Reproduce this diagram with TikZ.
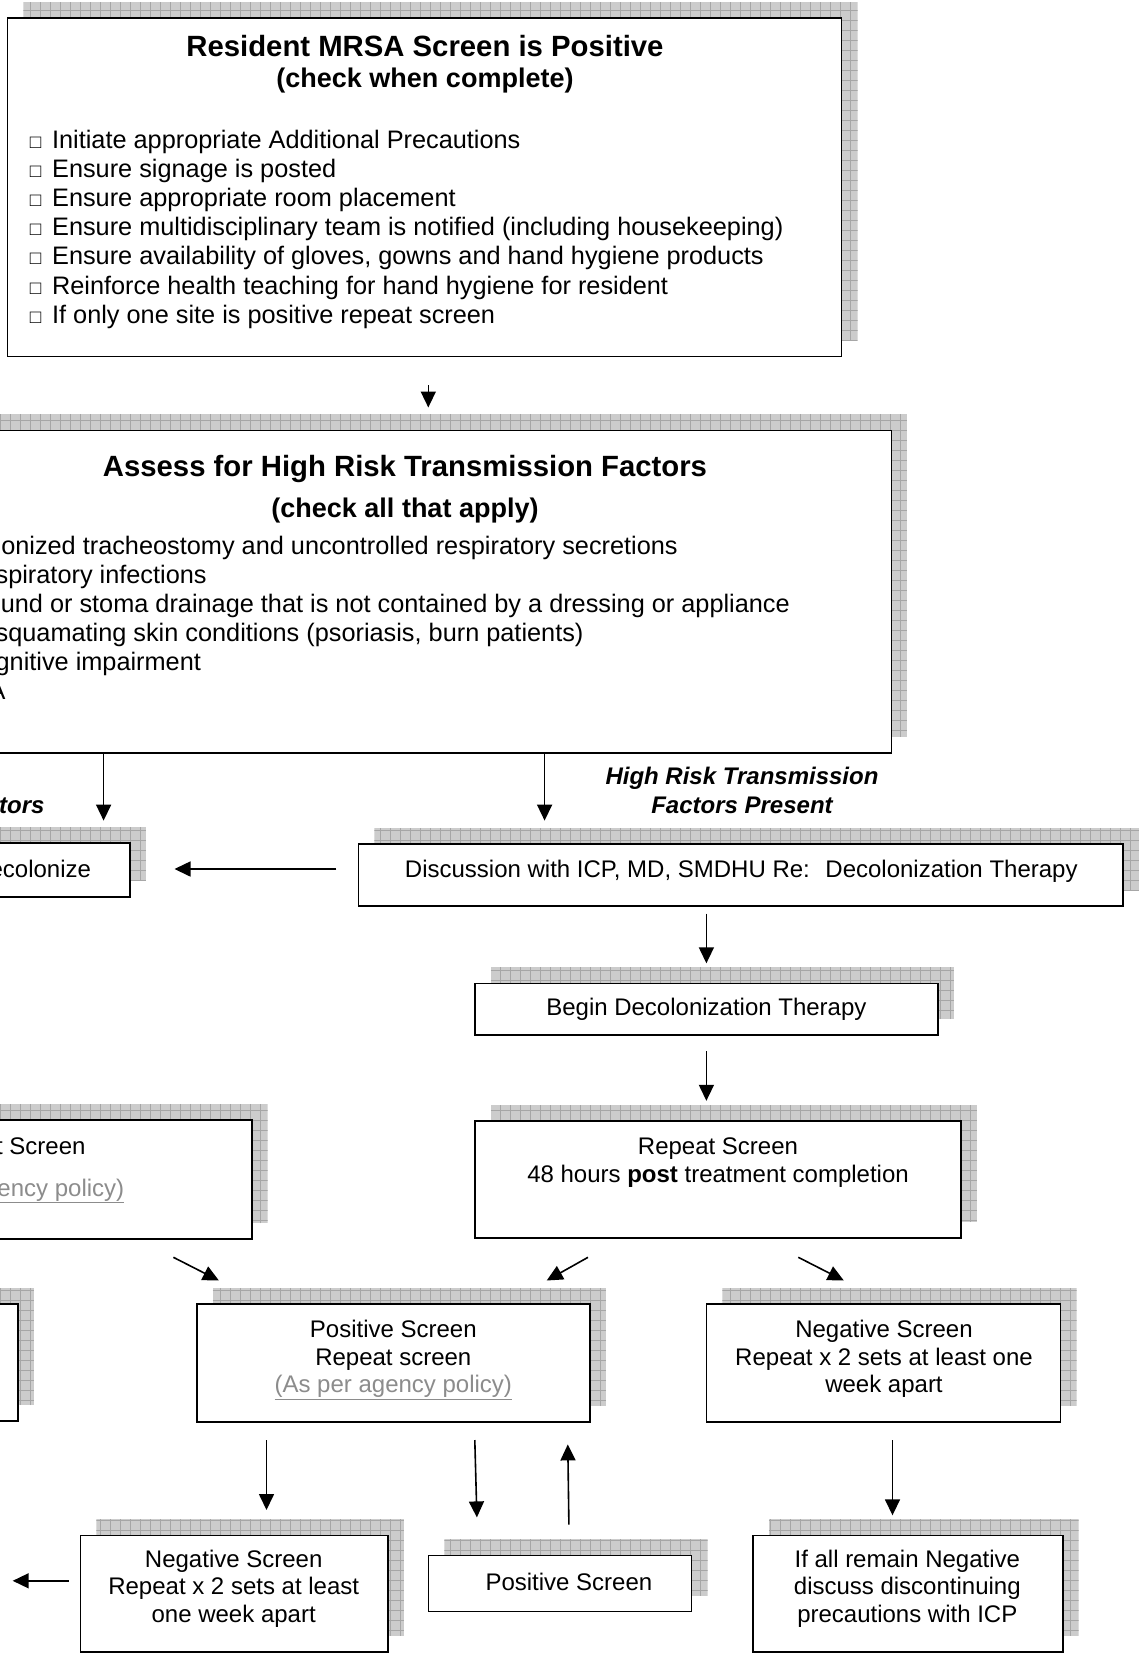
\documentclass[tikz,border=0pt]{standalone}
\usepackage{fontspec}
\setmainfont{Liberation Sans}
\usepackage{tikz}
\usetikzlibrary{arrows.meta}
\definecolor{ink}{HTML}{000000}
\definecolor{shade}{HTML}{CCCCCC}
\definecolor{shadeline}{HTML}{A6A6A6}
\definecolor{policy}{HTML}{8C8C8C}
\tikzset{
  flowbox/.style={draw=ink, line width=1.6pt, fill=white, inner sep=0pt},
  shadefill/.style={fill=shade},
  shadegrid/.style={draw=shadeline, line width=0.5pt, step=10pt},
  flowarrow/.style={draw=ink, line width=1.6pt, -{Triangle[length=16pt,width=15pt]}},
  titletext/.style={font=\bfseries\fontsize{29.3pt}{33pt}\selectfont, inner sep=0pt, text height=21pt, text depth=0pt},
  subtitletext/.style={font=\bfseries\fontsize{27pt}{31pt}\selectfont, inner sep=0pt, text height=19.5pt, text depth=0pt},
  listtext/.style={font=\fontsize{25.3pt}{29pt}\selectfont, anchor=west, inner sep=0pt, text height=18.2pt, text depth=0pt},
  boxtext/.style={font=\fontsize{24pt}{27.5pt}\selectfont, align=center, inner sep=0pt, text height=17.3pt, text depth=0pt},
  branchtext/.style={font=\bfseries\itshape\fontsize{24pt}{28.5pt}\selectfont, align=center, inner sep=0pt, text height=17.3pt, text depth=0pt},
  policytext/.style={boxtext, text=policy}
}
\newcommand{\tickbox}{\makebox[15.3pt][l]{\fontsize{19pt}{19pt}\selectfont □}}
% name, centre x, centre y, width, height
\newcommand{\casebox}[5]{%
  \begin{scope}
    \clip (#2-#4/2+16,#3+#5/2-16) rectangle (#2+#4/2+16,#3-#5/2-16);
    \fill[shadefill] (#2-#4/2+16,#3+#5/2-16) rectangle (#2+#4/2+16,#3-#5/2-16);
    \draw[shadegrid] (#2-#4/2+16,#3+#5/2-16) grid (#2+#4/2+16,#3-#5/2-16);
  \end{scope}
  \node[flowbox, minimum width=#4pt, minimum height=#5pt] (#1) at (#2,#3) {};}

\begin{document}
\begin{tikzpicture}[x=1pt, y=-1pt]
  \useasboundingbox (0,0) rectangle (1142,1658);
  \fill[white] (0,0) rectangle (1142,1658);
  \clip (0,0) rectangle (1142,1658);

  % first check list
  \casebox{screen}{424.5}{187.2}{834.3}{338.3}
  \node[titletext] (screen-title) at (425,45.5) {Resident MRSA Screen is Positive};
  \node[subtitletext] (screen-sub) at (425,78.2) {(check when complete)};
  \foreach \task [count=\i] in {{Initiate appropriate Additional Precautions},
      {Ensure signage is posted}, {Ensure appropriate room placement},
      {Ensure multidisciplinary team is notified (including housekeeping)},
      {Ensure availability of gloves, gowns and hand hygiene products},
      {Reinforce health teaching for hand hygiene for resident},
      {If only one site is positive repeat screen}}
    \node[listtext] (screen-\i) at (29.6,139.6+29.07*\i-29.07) {\tickbox{} \task};

  % risk factors
  \casebox{assess}{405}{591.65}{972.8}{322.5}
  \node[titletext] (assess-title) at (405,466.3) {Assess for High Risk Transmission Factors};
  \node[subtitletext] (assess-sub) at (405,507.6) {(check all that apply)};
  \foreach \factor [count=\i] in {{Colonized tracheostomy and uncontrolled respiratory secretions},
      {Respiratory infections},
      {Wound or stoma drainage that is not contained by a dressing or appliance},
      {Desquamating skin conditions (psoriasis, burn patients)},
      {Cognitive impairment}, {N/A}}
    \node[listtext] (assess-\i) at (-59.2,545.6+29*\i-29) {\tickbox{} \factor};

  \node[branchtext] (low-label) at (-80,804.6) {No High Risk\\Transmission Factors};
  \node[branchtext] (high-label) at (742,804.6) {High Risk Transmission\\Factors Present};

  % decolonization branch
  \casebox{nodecol}{-15.5}{869.75}{291}{53.9}
  \node[boxtext] (nodecol-text) at (-9,869.2) {Do Not Decolonize};
  \casebox{discuss}{740.7}{875}{764.5}{62.4}
  \node[boxtext] (discuss-text) at (741.3,869.2) {Discussion with ICP, MD, SMDHU Re:~ Decolonization Therapy};
  \casebox{begin}{706.4}{1009.3}{463.1}{51.8}
  \node[boxtext] (begin-text) at (706.4,1006.7) {Begin Decolonization Therapy};
  \casebox{repeat}{718}{1179.5}{486.4}{117.3}
  \node[boxtext] (repeat-text) at (718,1173.7) {Repeat Screen\\48 hours \textbf{post} treatment completion};
  \casebox{leftrepeat}{0}{1179.5}{503.4}{119.5}
  \node[boxtext] (leftrepeat-text) at (5.5,1146.2) {Repeat Screen};
  \node[policytext] (leftrepeat-policy) at (5.5,1187.5) {\underline{(As per agency policy)}};

  % screen results
  \casebox{farleft}{-107}{1362.5}{250}{117.4}
  \casebox{positive}{393.35}{1363}{393.3}{118.4}
  \node[boxtext] (positive-text) at (393.3,1384) {Positive Screen\\Repeat screen\\\textcolor{policy}{\underline{(As per agency policy)}}};
  \casebox{negative}{883.5}{1363}{354.2}{118.4}
  \node[boxtext] (negative-text) at (884,1384) {Negative Screen\\Repeat x 2 sets at least one\\week apart};
  \casebox{negtwo}{234.2}{1593.5}{307.7}{116.4}
  \node[boxtext] (negtwo-text) at (233.7,1613.6) {Negative Screen\\Repeat x 2 sets at least\\one week apart};
  \casebox{postwo}{559.9}{1583.5}{263.2}{56.1}
  \node[boxtext] (postwo-text) at (568.9,1581.9) {Positive Screen};
  \casebox{allneg}{907.8}{1593.5}{309.8}{116.4}
  \node[boxtext] (allneg-text) at (907.3,1613.6) {If all remain Negative\\discuss discontinuing\\precautions with ICP};

  % arrows
  \coordinate (screen-out) at (428.3,385);
  \coordinate (assess-in) at (428.3,407.5);
  \coordinate (low-in) at (103.6,820.6);
  \coordinate (high-in) at (544.6,820.6);
  \coordinate (discuss-left) at (336.3,869);
  \coordinate (nodecol-in) at (174.5,869);
  \coordinate (discuss-out) at (706.4,913.6);
  \coordinate (begin-in) at (706.4,963.3);
  \coordinate (begin-out) at (706.4,1051.1);
  \coordinate (repeat-in) at (706.4,1100.8);
  \coordinate (leftrepeat-out) at (173.4,1257.3);
  \coordinate (positive-in1) at (218.9,1280.5);
  \coordinate (repeat-out1) at (588,1257.3);
  \coordinate (positive-in2) at (546.7,1280.5);
  \coordinate (repeat-out2) at (798.3,1257.3);
  \coordinate (negative-in) at (843.8,1280.5);
  \coordinate (positive-out1) at (266.5,1440);
  \coordinate (negtwo-in) at (266.5,1510);
  \coordinate (positive-out2) at (474.8,1440);
  \coordinate (postwo-in) at (476.9,1517.4);
  \coordinate (postwo-out) at (568.9,1524.7);
  \coordinate (positive-in3) at (567.8,1444.4);
  \coordinate (negative-out) at (892.5,1440);
  \coordinate (allneg-in) at (892.5,1515.3);
  \coordinate (negtwo-out) at (68.7,1580.8);
  \coordinate (farleft-in) at (12.7,1580.8);

  \draw[flowarrow] (screen-out) -- (assess-in);
  \draw[flowarrow] (assess.south -| low-in) -- (low-in);
  \draw[flowarrow] (assess.south -| high-in) -- (high-in);
  \draw[flowarrow] (discuss-left) -- (nodecol-in);
  \draw[flowarrow] (discuss-out) -- (begin-in);
  \draw[flowarrow] (begin-out) -- (repeat-in);
  \draw[flowarrow] (leftrepeat-out) -- (positive-in1);
  \draw[flowarrow] (repeat-out1) -- (positive-in2);
  \draw[flowarrow] (repeat-out2) -- (negative-in);
  \draw[flowarrow] (positive-out1) -- (negtwo-in);
  \draw[flowarrow] (positive-out2) -- (postwo-in);
  \draw[flowarrow] (postwo-out) -- (positive-in3);
  \draw[flowarrow] (negative-out) -- (allneg-in);
  \draw[flowarrow] (negtwo-out) -- (farleft-in);
\end{tikzpicture}
\end{document}
